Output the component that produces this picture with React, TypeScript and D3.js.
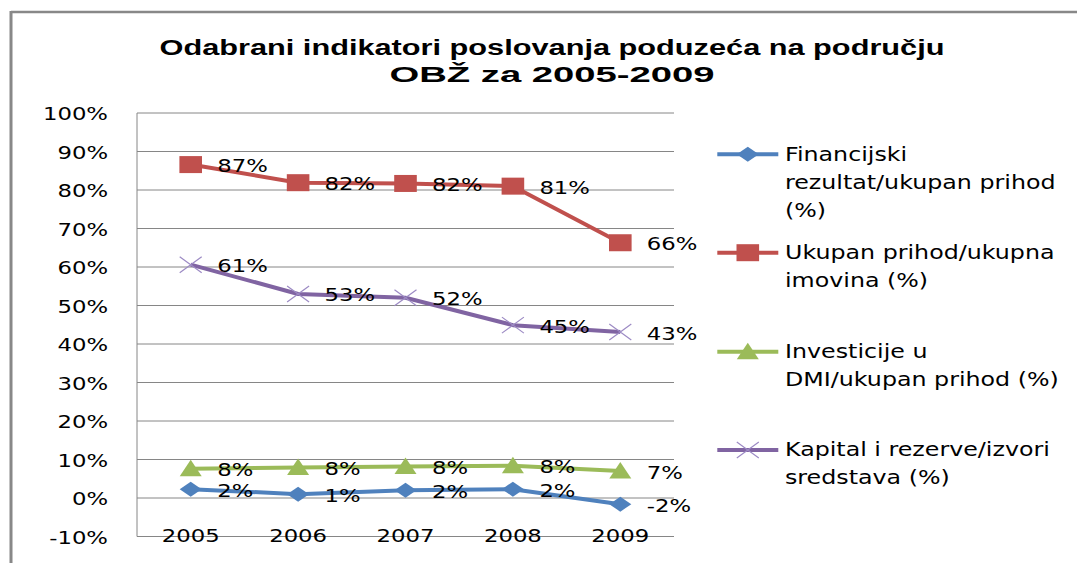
import React from 'react';
import * as d3 from 'd3';

const years = ['2005', '2006', '2007', '2008', '2009'];
const financijski = [2.3, 1.0, 2.0, 2.3, -1.6];
const ukupanPrihod = [86.6, 81.9, 81.7, 81.0, 66.3];
const investicije = [7.6, 7.9, 8.2, 8.4, 7.0];
const kapital = [60.6, 53.0, 52.0, 44.9, 43.1];
const yTicks = [-10, 0, 10, 20, 30, 40, 50, 60, 70, 80, 90, 100];

const titleLines = ['Odabrani indikatori poslovanja poduzeća na području', 'OBŽ za 2005-2009'];

type Series = { name: string[]; values: number[]; color: string; marker: string };
const series: Series[] = [
  { name: ['Financijski', 'rezultat/ukupan prihod', '(%)'], values: financijski, color: '#4F81BD', marker: 'diamond' },
  { name: ['Ukupan prihod/ukupna', 'imovina (%)'], values: ukupanPrihod, color: '#C0504D', marker: 'square' },
  { name: ['Investicije u', 'DMI/ukupan prihod (%)'], values: investicije, color: '#9BBB59', marker: 'triangle' },
  { name: ['Kapital i rezerve/izvori', 'sredstava (%)'], values: kapital, color: '#8064A2', marker: 'x' },
];

const SX = 1.25;
const FONT = 'DejaVu Sans, Verdana, sans-serif';

function SText({ x, y, children, size = 18.2, anchor = 'start', fill = '#000' }: any) {
  return (
    <text
      transform={`translate(${x},${y}) scale(${SX},1)`}
      fontFamily={FONT}
      fontSize={size}
      textAnchor={anchor}
      fill={fill}
    >
      {children}
    </text>
  );
}

function Marker({ type, cx, cy, color }: any) {
  if (type === 'square') {
    return <rect x={cx - 11.3} y={cy - 8.5} width={22.6} height={17} fill={color} />;
  }
  if (type === 'triangle') {
    return <path d={`M${cx},${cy - 9} L${cx + 11},${cy + 7.5} L${cx - 11},${cy + 7.5} Z`} fill={color} />;
  }
  if (type === 'diamond') {
    return <path d={`M${cx},${cy - 7.5} L${cx + 11},${cy} L${cx},${cy + 7.5} L${cx - 11},${cy} Z`} fill={color} />;
  }
  return (
    <path
      d={`M${cx - 11},${cy - 8} L${cx + 11},${cy + 8} M${cx - 11},${cy + 8} L${cx + 11},${cy - 8}`}
      stroke="#9C8AC4"
      strokeWidth={1.2}
      fill="none"
    />
  );
}

export default function App() {
  const W = 1077;
  const H = 563;
  const left = 137;
  const right = 674;
  const x = d3.scaleBand<string>().domain(years).range([left, right]);
  const cx = (d: string) => (x(d) as number) + x.bandwidth() / 2;
  const y = d3.scaleLinear().domain([-10, 100]).range([536.5, 113]);
  const line = d3
    .line<number>()
    .x((_, i) => cx(years[i]))
    .y((v) => y(v));

  const legendTop = [154.3, 252.7, 351.7, 450];

  return (
    <svg width={W} height={H} style={{ position: 'absolute', left: 0, top: 0, background: '#fff' }}>
      <rect x={0} y={0} width={W} height={H} fill="#fff" />
      {/* outer frame */}
      <line x1={11} x2={W} y1={12} y2={12} stroke="#888" strokeWidth={2.5} />
      <line x1={11} x2={11} y1={11} y2={H} stroke="#888" strokeWidth={3} />

      {/* title */}
      <text
        x={552}
        y={55}
        textAnchor="middle"
        fontFamily="Liberation Sans, Arial, sans-serif"
        fontWeight="bold"
        fontSize={22}
        textLength={785}
        lengthAdjust="spacingAndGlyphs"
      >
        {titleLines[0]}
      </text>
      <text
        x={552}
        y={82}
        textAnchor="middle"
        fontFamily="Liberation Sans, Arial, sans-serif"
        fontWeight="bold"
        fontSize={22}
        textLength={325}
        lengthAdjust="spacingAndGlyphs"
      >
        {titleLines[1]}
      </text>

      {/* gridlines */}
      {yTicks.map((t) => (
        <line key={t} x1={left} x2={right} y1={y(t)} y2={y(t)} stroke="#868686" strokeWidth={1} />
      ))}
      <line x1={left} x2={left} y1={y(100)} y2={y(-10)} stroke="#868686" strokeWidth={1} />

      {/* y tick labels */}
      {yTicks.map((t) => (
        <SText key={t} x={108} y={y(t) + 7} anchor="end">
          {`${t}%`}
        </SText>
      ))}

      {/* x labels */}
      {years.map((yr) => (
        <SText key={yr} x={cx(yr)} y={542} anchor="middle">
          {yr}
        </SText>
      ))}

      {/* series */}
      {series.map((s) => (
        <g key={s.color}>
          <path d={line(s.values) as string} fill="none" stroke={s.color} strokeWidth={4} strokeLinejoin="round" />
          {s.values.map((v, i) => (
            <Marker key={i} type={s.marker} cx={cx(years[i])} cy={y(v)} color={s.color} />
          ))}
        </g>
      ))}

      {/* data labels */}
      {series.map((s) =>
        s.values.map((v, i) => (
          <SText key={s.color + i} x={cx(years[i]) + 26.5} y={y(v) + 7.5}>
            {`${Math.round(v)}%`}
          </SText>
        ))
      )}

      {/* legend */}
      {series.map((s, k) => (
        <g key={'lg' + k}>
          <line x1={717.3} x2={778.3} y1={legendTop[k]} y2={legendTop[k]} stroke={s.color} strokeWidth={4} />
          <Marker type={s.marker} cx={747.8} cy={legendTop[k]} color={s.color} />
          {s.name.map((ln, j) => (
            <SText key={j} x={785} y={legendTop[k] + 6.4 + j * 28} size={19}>
              {ln}
            </SText>
          ))}
        </g>
      ))}
    </svg>
  );
}
